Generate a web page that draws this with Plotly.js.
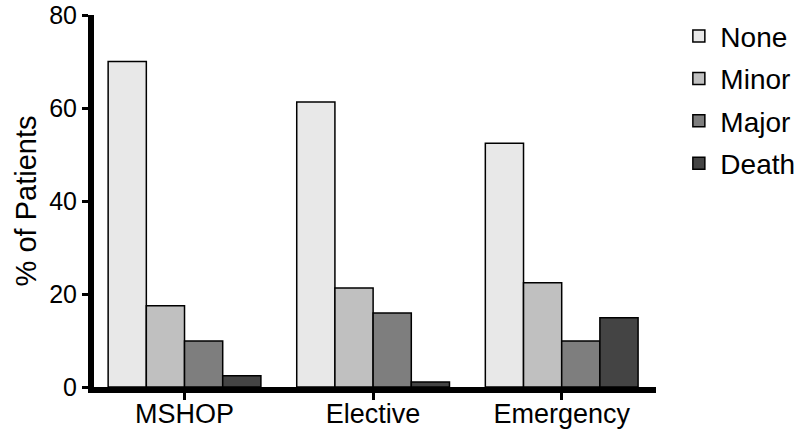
<!DOCTYPE html>
<html><head><meta charset="utf-8">
<script src="https://cdn.plot.ly/plotly-3.0.1.min.js"></script>
<style>html,body{margin:0;padding:0;background:#fff}</style>
</head><body><div id="chart" style="width:800px;height:431px"></div>
<script>
const categories = ["MSHOP", "Elective", "Emergency"];
const none = [70.0, 61.3, 52.4];
const minor = [17.5, 21.3, 22.4];
const major = [9.9, 15.9, 9.9];
const death = [2.4, 1.1, 14.9];
const seriesNames = ["None", "Minor", "Major", "Death"];
const seriesColors = ["#e8e8e8", "#c0c0c0", "#7e7e7e", "#444444"];
const seriesValues = [none, minor, major, death];

const traces = seriesValues.map((v, i) => ({
  type: "bar", x: categories, y: v, name: seriesNames[i],
  legendgroup: "g" + i,
  marker: {color: seriesColors[i], line: {color: "#000", width: 1.5}}
}));

const layout = {
  width: 800, height: 431,
  margin: {l: 94, r: 144, t: 15, b: 44, autoexpand: false},
  barmode: "group", bargap: 0.19, bargroupgap: 0,
  paper_bgcolor: "#fff", plot_bgcolor: "#fff",
  font: {family: "Liberation Sans, Arial, sans-serif", color: "#000", size: 27},
  showlegend: true,
  legend: {x: 1.038, y: 1.01, xanchor: "left", yanchor: "top", traceorder: "grouped", tracegroupgap: 3,
           font: {size: 28}, itemwidth: 33},
  xaxis: {
    range: [-0.48, 2.5], showline: true, linewidth: 6, linecolor: "#000",
    ticks: "outside", ticklen: 7, tickwidth: 3, tickcolor: "#000", ticklabelstandoff: -9,
    showgrid: false, zeroline: false, tickfont: {size: 27}, fixedrange: true, automargin: false
  },
  yaxis: {
    range: [0, 80], tickvals: [0, 20, 40, 60, 80], showline: true, linewidth: 6, linecolor: "#000",
    ticks: "outside", ticklen: 6, tickwidth: 3, tickcolor: "#000", ticklabeloverflow: "allow",
    showgrid: false, zeroline: false, tickfont: {size: 25}, automargin: false,
    title: {text: "% of Patients", font: {size: 29}, standoff: 6}
  }
};
Plotly.newPlot("chart", traces, layout, {displayModeBar: false, staticPlot: true});
</script></body></html>
